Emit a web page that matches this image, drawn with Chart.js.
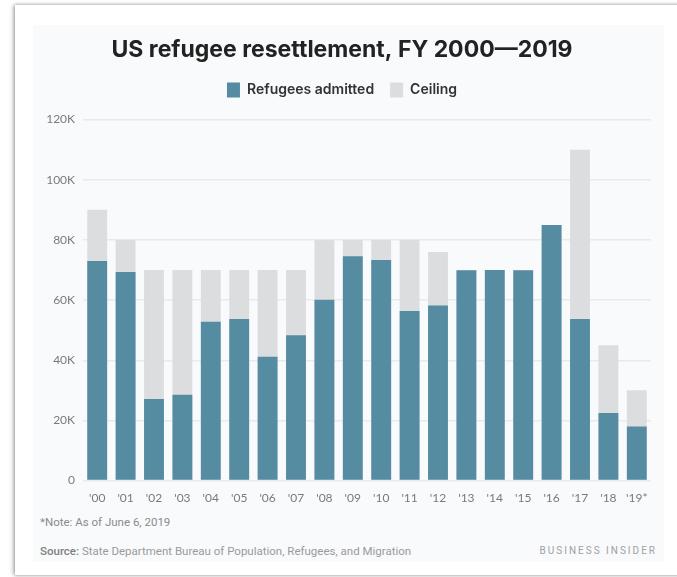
<!DOCTYPE html>
<html>
<head>
<meta charset="utf-8">
<script src="https://cdn.jsdelivr.net/npm/chart.js@4.4.1/dist/chart.umd.min.js"></script>
<style>
  body { margin: 0; background: #fff; width: 677px; height: 577px; overflow: hidden; position: relative; font-family: Roboto, "Open Sans", sans-serif; }
  .frame { position: absolute; left: 15px; top: 5px; width: 680px; height: 570px; background: #fff; box-shadow: -2px 0 4px rgba(0,0,0,0.25), 0 -1px 3px rgba(0,0,0,0.12), 0 1px 3px rgba(0,0,0,0.15); }
  .panel { position: absolute; left: 33px; top: 25px; width: 631px; height: 537px; background: #f9fafc; }
  .chart-box { position: absolute; left: 33px; top: 25px; width: 631px; height: 484px; }
  .note { position: absolute; left: 40px; top: 515px; font-size: 11.5px; color: #8a8a8a; }
  .source { position: absolute; left: 40px; top: 544px; font-size: 11.5px; color: #9a9a9a; }
  .source b { font-weight: 500; color: #808080; }
  .brand { position: absolute; right: 20px; top: 545px; font-size: 10px; letter-spacing: 2px; color: #a0a0a0; }
</style>
</head>
<body>
<div class="frame"></div>
<div class="panel"></div>
<div class="chart-box"><canvas id="refugeeChart"></canvas></div>
<div class="note">*Note: As of June 6, 2019</div>
<div class="source"><b>Source:</b> State Department Bureau of Population, Refugees, and Migration</div>
<div class="brand">BUSINESS INSIDER</div>
<script>
// fiscal years, shown as '00 ... '19*
const years = ["'00", "'01", "'02", "'03", "'04", "'05", "'06", "'07", "'08", "'09",
  "'10", "'11", "'12", "'13", "'14", "'15", "'16", "'17", "'18", "'19*"];

// refugees admitted each year
const admitted = [73000, 69300, 27100, 28500, 52800, 53700, 41200, 48300, 60100, 74600,
  73300, 56400, 58200, 69900, 70000, 69900, 85000, 53700, 22500, 18000];

// refugee ceiling each year
const ceiling = [90000, 80000, 70000, 70000, 70000, 70000, 70000, 70000, 80000, 80000,
  80000, 80000, 76000, 70000, 70000, 70000, 85000, 110000, 45000, 30000];

const yTicks = [0, 20000, 40000, 60000, 80000, 100000, 120000];

// a bit more room under the legend
const legendGap = {
  id: 'legendGap',
  afterInit(chart) {
    const fit = chart.legend.fit;
    chart.legend.fit = function () {
      fit.call(this);
      this.height += 12;
    };
  }
};

function createRefugeeChart() {
  const ctx = document.getElementById('refugeeChart').getContext('2d');
  const refugeeChart = new Chart(ctx, {
    type: 'bar',
    data: {
      labels: years,
      datasets: [{
        label: 'Refugees admitted',
        data: admitted,
        backgroundColor: '#568ca2',
        grouped: false
      }, {
        label: 'Ceiling',
        data: ceiling,
        backgroundColor: '#dcdddf',
        grouped: false
      }]
    },
    options: {
      responsive: true,
      maintainAspectRatio: false,
      animation: false,
      barPercentage: 1,
      categoryPercentage: 0.7,
      layout: { padding: { left: 0, right: 13, top: 0, bottom: 2 } },
      plugins: {
        title: {
          display: true,
          text: 'US refugee resettlement, FY 2000\u20142019',
          color: '#222',
          font: { family: 'Inter', size: 23, weight: 'bold' },
          padding: { top: 11, bottom: 3 }
        },
        legend: {
          display: true,
          labels: {
            color: '#333',
            font: { family: 'Inter', size: 14, weight: '600' },
            boxWidth: 13,
            boxHeight: 15,
            padding: 16
          }
        },
        tooltip: { enabled: false }
      },
      scales: {
        x: {
          grid: { display: false },
          border: { display: false },
          ticks: { color: '#7a7a7a', font: { family: 'Lato', size: 12 }, maxRotation: 0, autoSkip: false, padding: 2 }
        },
        y: {
          min: 0,
          max: 120000,
          afterFit: (scale) => { scale.width = 50; },
          afterBuildTicks: (scale) => { scale.ticks = yTicks.map((v) => ({ value: v })); },
          grid: { color: '#e9eaec', lineWidth: 1.5, drawTicks: false },
          border: { display: false },
          ticks: {
            color: '#7a7a7a',
            font: { family: 'Lato', size: 12 },
            padding: 8,
            callback: (v) => (v === 0 ? '0' : v / 1000 + 'K')
          }
        }
      }
    },
    plugins: [legendGap]
  });
}

createRefugeeChart();
</script>
</body>
</html>
